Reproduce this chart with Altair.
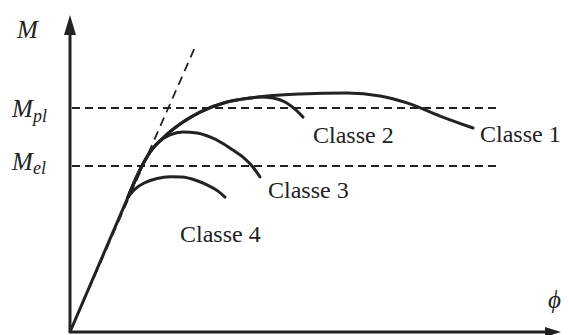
import altair as alt
import pandas as pd

# Curvature phi (arbitrary units) and moment M (in units of M_el)
rise_phi = [0.0, 5.8]
rise_m = [0.0, 0.813]

class1_phi = [5.8, 6.8, 8.0, 9.3, 11.3, 13.0, 15.7, 18.0, 19.7, 23.0, 27.7, 31.0, 33.7, 37.0, 40.3]
class1_m = [0.813, 0.952, 1.084, 1.169, 1.265, 1.325, 1.386, 1.410, 1.422, 1.434, 1.440, 1.422, 1.380, 1.301, 1.229]
class2_phi = [5.8, 6.8, 8.0, 9.3, 11.3, 13.0, 15.7, 18.0, 19.0, 20.3, 21.5, 22.5, 23.3]
class2_m = [0.813, 0.952, 1.084, 1.169, 1.265, 1.325, 1.386, 1.410, 1.416, 1.410, 1.386, 1.343, 1.295]
class3_phi = [5.8, 6.8, 8.0, 9.0, 10.0, 11.3, 12.7, 14.0, 15.2, 16.3, 17.3, 18.2, 19.0]
class3_m = [0.813, 0.952, 1.084, 1.151, 1.187, 1.205, 1.199, 1.175, 1.139, 1.096, 1.054, 1.0, 0.934]
class4_phi = [5.8, 6.5, 7.5, 8.7, 10.0, 11.2, 12.5, 13.7, 14.8, 15.5]
class4_m = [0.813, 0.861, 0.900, 0.925, 0.936, 0.934, 0.916, 0.886, 0.849, 0.813]

class_names = ["Classe 1", "Classe 2", "Classe 3", "Classe 4"]
class_label_phi = [41.0, 24.3, 19.8, 11.0]
class_label_m = [1.145, 1.139, 0.807, 0.542]

m_el = 1.0
m_pl = 1.349
level_phi = [0.2, 42.8]

elastic_phi = [0.0, 12.6]
elastic_m = [0.0, 1.73]

axis_top_m = 1.80
axis_right_phi = 47.6
arrow_up = (0.0, 1.849)
arrow_right = (48.3, 0.0)

INK = "#222222"
FONT = "Liberation Serif"

xs = alt.Scale(domain=[-6.2, 49.1], nice=False, zero=False)
ys = alt.Scale(domain=[-0.018, 1.952], nice=False, zero=False)


def X(f="phi"):
    return alt.X(f"{f}:Q", scale=xs, axis=None)


def Y(f="m"):
    return alt.Y(f"{f}:Q", scale=ys, axis=None)


# curves
rows = []
for name, ph, mm in zip(class_names, [class1_phi, class2_phi, class3_phi, class4_phi],
                        [class1_m, class2_m, class3_m, class4_m]):
    for i, (p, m) in enumerate(zip(ph, mm)):
        rows.append({"classe": name, "phi": p, "m": m, "i": i})
curves_df = pd.DataFrame(rows)

curves = alt.Chart(curves_df).mark_line(
    interpolate="monotone", color=INK, strokeWidth=3, strokeCap="round", strokeJoin="round"
).encode(x=X(), y=Y(), detail="classe:N", order="i:Q")

rise = alt.Chart(pd.DataFrame({"phi": rise_phi, "m": rise_m})).mark_line(
    color=INK, strokeWidth=3, strokeCap="round"
).encode(x=X(), y=Y())

# dashed reference levels
levels_df = pd.DataFrame({
    "phi": [level_phi[0]] * 2, "phi2": [level_phi[1]] * 2, "m": [m_pl, m_el]
})
levels = alt.Chart(levels_df).mark_rule(
    color=INK, strokeWidth=2, strokeDash=[8, 5]
).encode(x=X(), x2="phi2:Q", y=Y())

elastic = alt.Chart(pd.DataFrame({"phi": elastic_phi, "m": elastic_m})).mark_line(
    color=INK, strokeWidth=1.8, strokeDash=[9, 6]
).encode(x=X(), y=Y())

# axes
axes_df = pd.DataFrame({
    "phi": [0.0, 0.0], "phi2": [0.0, axis_right_phi], "m": [0.0, 0.0], "m2": [axis_top_m, 0.0]
})
axes = alt.Chart(axes_df).mark_rule(color=INK, strokeWidth=3).encode(
    x=X(), x2="phi2:Q", y=Y(), y2="m2:Q"
)

up = alt.Chart(pd.DataFrame({"phi": [arrow_up[0]], "m": [arrow_up[1]]})).mark_point(
    shape="M0,-1L0.6,1L-0.6,1Z", size=400, filled=True, color=INK, opacity=1
).encode(x=X(), y=Y())
right = alt.Chart(pd.DataFrame({"phi": [arrow_right[0]], "m": [arrow_right[1]]})).mark_point(
    shape="M1,0L-1,0.62L-1,-0.62Z", size=256, filled=True, color=INK, opacity=1
).encode(x=X(), y=Y())

# labels
labels = alt.Chart(pd.DataFrame({
    "t": class_names, "phi": class_label_phi, "m": class_label_m
})).mark_text(
    align="left", baseline="alphabetic", font=FONT, fontSize=24, color=INK
).encode(x=X(), y=Y(), text="t:N")

sym_df = pd.DataFrame({
    "t": ["M", "M", "M", "ϕ"],
    "phi": [-5.3, -5.8, -5.8, 47.8],
    "m": [1.771, 1.295, 0.976, 0.145],
})
symbols = alt.Chart(sym_df).mark_text(
    align="left", baseline="alphabetic", font=FONT, fontSize=25, fontStyle="italic", color=INK
).encode(x=X(), y=Y(), text="t:N")

sub_df = pd.DataFrame({
    "t": ["pl", "el"],
    "phi": [-3.7, -3.7],
    "m": [1.265, 0.952],
})
subs = alt.Chart(sub_df).mark_text(
    align="left", baseline="alphabetic", font=FONT, fontSize=18, fontStyle="italic", color=INK
).encode(x=X(), y=Y(), text="t:N")

chart = alt.layer(
    levels, elastic, axes, up, right, rise, curves, labels, symbols, subs
).properties(
    width=553, height=327, padding=0, autosize="none", background="white"
).configure_view(stroke=None)

chart.save("out.html", embed_options={"renderer": "svg", "actions": False})
